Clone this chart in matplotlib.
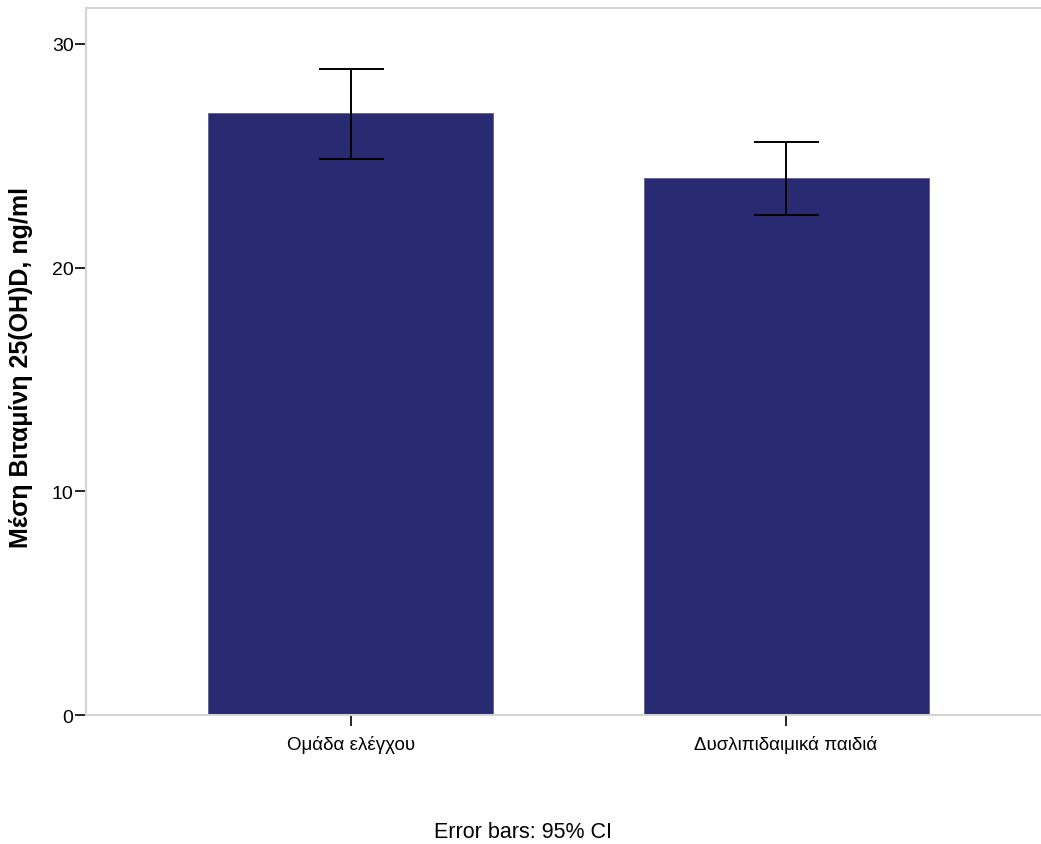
import matplotlib.pyplot as plt
import numpy as np

plt.rcParams['font.family'] = ['Liberation Sans', 'DejaVu Sans']

groups = ['Ομάδα ελέγχου', 'Δυσλιπιδαιμικά παιδιά']
means = [26.9, 24.0]
ci_low = [24.85, 22.35]
ci_high = [28.86, 25.62]

x = np.arange(len(groups))
yerr = [np.array(means) - np.array(ci_low), np.array(ci_high) - np.array(means)]

fig = plt.figure(figsize=(10.41, 8.45), dpi=100)
ax = fig.add_axes([86/1041, 1-716.3/845, 1-86/1041+0.01, (716.3-9)/845])

ax.bar(x, means, width=0.655, color='#282a72', edgecolor='#5a5c98', linewidth=0.6, zorder=2)
ax.errorbar(x, means, yerr=yerr, fmt='none', ecolor='black', elinewidth=1.4,
            capsize=23.4, capthick=1.4, zorder=3)

ax.set_xlim(-0.609, 1.61)
ax.set_ylim(0, 31.6)
ax.set_yticks([0, 10, 20, 30])
ax.set_xticks(x)
ax.set_xticklabels(groups, fontsize=13.5)
ax.tick_params(axis='both', colors='black', length=8, width=1.2)
ax.tick_params(axis='y', labelsize=14, pad=1)
ax.tick_params(axis='x', pad=6)
for s in ['left', 'bottom', 'top', 'right']:
    ax.spines[s].set_color('#d4d4d4')
    ax.spines[s].set_linewidth(1.5)

ax.set_ylabel('Μέση Βιταμίνη 25(OH)D, ng/ml', fontsize=18, fontweight='bold')
ax.yaxis.set_label_coords((33-86)/965.5, (716.3-368)/707.3)
fig.text(523/1041, 1-833/845, 'Error bars: 95% CI', ha='center', va='center', fontsize=15.5)

fig.savefig('out.png', dpi=100)
